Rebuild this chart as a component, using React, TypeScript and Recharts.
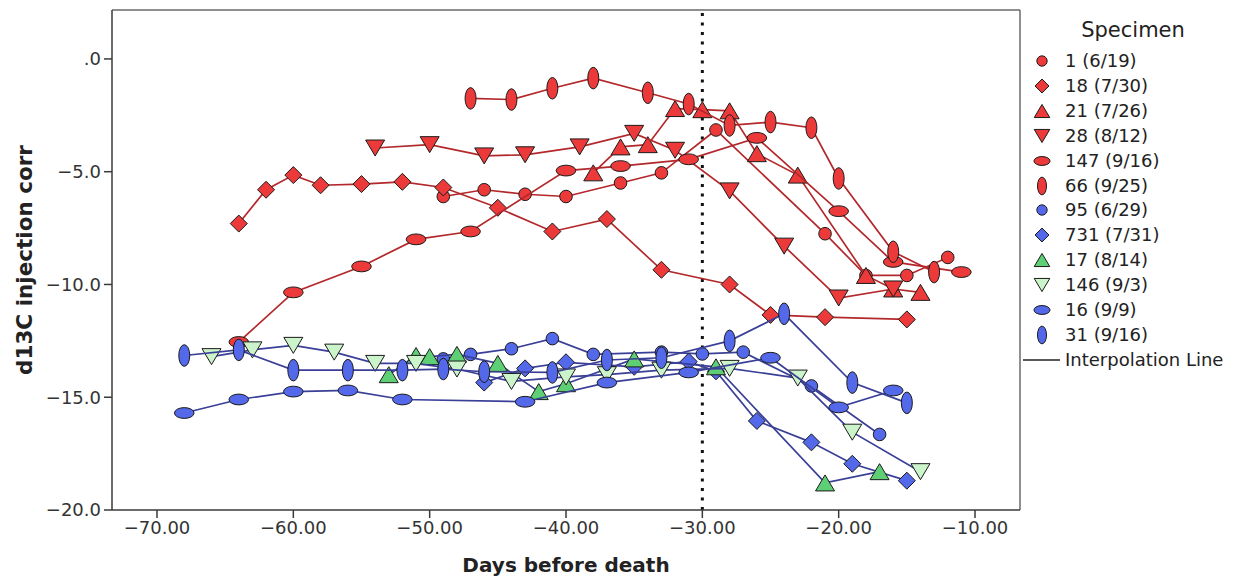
import React from 'react';
import { ScatterChart, Scatter, XAxis, YAxis, ReferenceLine } from 'recharts';

type Pt = [number, number];
type Kind = 'circle' | 'diamond' | 'up' | 'down' | 'hell' | 'vell';

// Days before death, d13C injection corr
const spec1: Pt[] = [[-49, -6.1], [-46, -5.8], [-43, -6.0], [-40, -6.1], [-36, -5.5], [-33, -5.05], [-29, -3.15], [-21, -7.75], [-18, -9.6], [-15, -9.6], [-12, -8.8]];
const spec18: Pt[] = [[-64, -7.3], [-62, -5.8], [-60, -5.15], [-58, -5.6], [-55, -5.55], [-52, -5.45], [-49, -5.7], [-45, -6.6], [-41, -7.65], [-37, -7.1], [-33, -9.35], [-28, -10.0], [-25, -11.35], [-21, -11.45], [-15, -11.55]];
const spec21: Pt[] = [[-38, -5.05], [-36, -3.9], [-34, -3.8], [-32, -2.2], [-30, -2.25], [-28, -2.3], [-26, -4.2], [-23, -5.15], [-18, -9.6], [-16, -10.2], [-14, -10.35]];
const spec28: Pt[] = [[-54, -3.95], [-50, -3.8], [-46, -4.3], [-43, -4.25], [-39, -3.9], [-35, -3.3], [-32, -4.05], [-28, -5.85], [-24, -8.3], [-20, -10.6], [-16, -10.2]];
const spec147: Pt[] = [[-64, -12.55], [-60, -10.35], [-55, -9.2], [-51, -8.0], [-47, -7.65], [-40, -4.95], [-36, -4.75], [-31, -4.45], [-26, -3.5], [-20, -6.75], [-16, -9.0], [-11, -9.45]];
const spec66: Pt[] = [[-47, -1.75], [-44, -1.8], [-41, -1.3], [-38, -0.85], [-34, -1.5], [-31, -2.0], [-28, -2.95], [-25, -2.8], [-22, -3.05], [-20, -5.3], [-16, -8.55], [-13, -9.45]];
const spec95: Pt[] = [[-49, -13.3], [-47, -13.1], [-44, -12.85], [-41, -12.4], [-38, -13.1], [-33, -13.0], [-30, -13.08], [-27, -13.0], [-22, -14.5], [-17, -16.65]];
const spec731: Pt[] = [[-46, -14.35], [-43, -13.72], [-40, -13.45], [-35, -13.65], [-31, -13.42], [-29, -13.85], [-26, -16.05], [-22, -17.0], [-19, -17.95], [-15, -18.7]];
const spec17: Pt[] = [[-53, -14.0], [-51, -13.15], [-50, -13.2], [-48, -13.1], [-45, -13.5], [-42, -14.75], [-40, -14.4], [-35, -13.3], [-29, -13.65], [-21, -18.8], [-17, -18.3]];
const spec146: Pt[] = [[-66, -13.2], [-63, -12.9], [-60, -12.7], [-57, -13.0], [-54, -13.5], [-51, -13.5], [-48, -13.75], [-44, -14.3], [-40, -14.1], [-37, -14.0], [-33, -13.8], [-28, -13.72], [-23, -14.15], [-19, -16.55], [-14, -18.3]];
const spec16: Pt[] = [[-68, -15.7], [-64, -15.1], [-60, -14.75], [-56, -14.7], [-52, -15.1], [-43, -15.2], [-37, -14.35], [-31, -13.9], [-25, -13.25], [-20, -15.45], [-16, -14.7]];
const spec31: Pt[] = [[-68, -13.15], [-64, -12.9], [-60, -13.8], [-56, -13.8], [-52, -13.8], [-49, -13.75], [-46, -13.87], [-41, -13.9], [-37, -13.35], [-33, -13.25], [-28, -12.5], [-24, -11.3], [-19, -14.35], [-15, -15.25]];

const X_TICKS = [-70, -60, -50, -40, -30, -20, -10];
const Y_TICKS = [0, -5, -10, -15, -20];
const X_DOMAIN: [number, number] = [-73.3, -6.7];
const Y_DOMAIN: [number, number] = [-20, 2.17];
const CUTOFF_DAY = -30;

const RED_FILL = '#EC3A3A';
const RED_LINE = '#B3282B';
const BLUE_FILL = '#5468EA';
const BLUE_LINE = '#3A3F97';
const GREEN_FILL = '#5FCF75';
const LIGHT_GREEN_FILL = '#CBF4CB';

const SERIES: { name: string; data: Pt[]; kind: Kind; fill: string; line: string }[] = [
  { name: '1 (6/19)', data: spec1, kind: 'circle', fill: RED_FILL, line: RED_LINE },
  { name: '18 (7/30)', data: spec18, kind: 'diamond', fill: RED_FILL, line: RED_LINE },
  { name: '21 (7/26)', data: spec21, kind: 'up', fill: RED_FILL, line: RED_LINE },
  { name: '28 (8/12)', data: spec28, kind: 'down', fill: RED_FILL, line: RED_LINE },
  { name: '147 (9/16)', data: spec147, kind: 'hell', fill: RED_FILL, line: RED_LINE },
  { name: '66 (9/25)', data: spec66, kind: 'vell', fill: RED_FILL, line: RED_LINE },
  { name: '95 (6/29)', data: spec95, kind: 'circle', fill: BLUE_FILL, line: BLUE_LINE },
  { name: '731 (7/31)', data: spec731, kind: 'diamond', fill: BLUE_FILL, line: BLUE_LINE },
  { name: '17 (8/14)', data: spec17, kind: 'up', fill: GREEN_FILL, line: BLUE_LINE },
  { name: '146 (9/3)', data: spec146, kind: 'down', fill: LIGHT_GREEN_FILL, line: BLUE_LINE },
  { name: '16 (9/9)', data: spec16, kind: 'hell', fill: BLUE_FILL, line: BLUE_LINE },
  { name: '31 (9/16)', data: spec31, kind: 'vell', fill: BLUE_FILL, line: BLUE_LINE },
];

const FONT = "'DejaVu Sans', sans-serif";

function Marker({ kind, fill, cx, cy, k = 1 }: { kind: Kind; fill: string; cx: number; cy: number; k?: number }) {
  const stroke = '#1b1b1b';
  const sw = 1;
  if (cx == null || cy == null || isNaN(cx) || isNaN(cy)) return null;
  switch (kind) {
    case 'circle':
      return <circle cx={cx} cy={cy} r={6.3 * k} fill={fill} stroke={stroke} strokeWidth={sw} />;
    case 'diamond': {
      const d = 8.5 * k;
      return <polygon points={`${cx},${cy - d} ${cx + d},${cy} ${cx},${cy + d} ${cx - d},${cy}`} fill={fill} stroke={stroke} strokeWidth={sw} />;
    }
    case 'up': {
      const w = 9.5 * k, h = 8 * k;
      return <polygon points={`${cx - w},${cy + h} ${cx + w},${cy + h} ${cx},${cy - h}`} fill={fill} stroke={stroke} strokeWidth={sw} />;
    }
    case 'down': {
      const w = 9.5 * k, h = 8 * k;
      return <polygon points={`${cx - w},${cy - h} ${cx + w},${cy - h} ${cx},${cy + h}`} fill={fill} stroke={stroke} strokeWidth={sw} />;
    }
    case 'hell':
      return <ellipse cx={cx} cy={cy} rx={9.8 * k} ry={5.4 * k} fill={fill} stroke={stroke} strokeWidth={sw} />;
    case 'vell':
      return <ellipse cx={cx} cy={cy} rx={5.5 * k} ry={10.8 * k} fill={fill} stroke={stroke} strokeWidth={sw} />;
  }
  return null;
}

const MINUS = '\u2212';
const yFmt = (v: number) => (v === 0 ? '.0' : (v < 0 ? MINUS : '') + Math.abs(v).toFixed(1));
const xFmt = (v: number) => (v < 0 ? MINUS : '') + Math.abs(v).toFixed(2);

function YTitle(props: any) {
  const vb = props.viewBox || { x: 0, y: 0, width: 0, height: 0 };
  const x = vb.x + 24;
  const y = vb.y + vb.height / 2;
  return (
    <text x={x} y={y} transform={`rotate(-90, ${x}, ${y})`} textAnchor="middle" dominantBaseline="central"
      fontFamily={FONT} fontWeight="bold" fontSize={21.5} fill="#222">
      d13C injection corr
    </text>
  );
}

function Legend() {
  const rowH = 24.9;
  return (
    <div style={{ position: 'absolute', left: 1020, top: 0, width: 223, height: 400, fontFamily: FONT, color: '#222' }}>
      <div style={{ position: 'absolute', left: 0, width: 226, top: 17, textAlign: 'center', fontSize: 21, lineHeight: '26px' }}>Specimen</div>
      {SERIES.map((s, i) => (
        <div key={s.name} style={{ position: 'absolute', left: 0, top: 61 + i * rowH - 12, height: 24, width: 223 }}>
          <svg width={40} height={24} style={{ position: 'absolute', left: 6, top: 0 }}>
            <Marker kind={s.kind} fill={s.fill} cx={16} cy={12} k={0.82} />
          </svg>
          <span style={{ position: 'absolute', left: 45, top: 1, fontSize: 18, lineHeight: '22px', whiteSpace: 'nowrap' }}>{s.name}</span>
        </div>
      ))}
      <div style={{ position: 'absolute', left: 0, top: 61 + SERIES.length * rowH - 12, height: 24, width: 223 }}>
        <svg width={44} height={24} style={{ position: 'absolute', left: 0, top: 0 }}>
          <line x1={3} x2={40} y1={12} y2={12} stroke="#222" strokeWidth={1.5} />
        </svg>
        <span style={{ position: 'absolute', left: 45, top: 1, fontSize: 18, lineHeight: '22px', whiteSpace: 'nowrap' }}>Interpolation Line</span>
      </div>
    </div>
  );
}

export default function App() {
  return (
    <div style={{ position: 'absolute', left: 0, top: 0, width: 1243, height: 584, background: '#fff', fontFamily: FONT }}>
      <ScatterChart width={1243} height={584} margin={{ top: 10, right: 223, bottom: 0, left: 0 }}>
        <XAxis
          type="number"
          dataKey="x"
          domain={X_DOMAIN}
          ticks={X_TICKS}
          tickFormatter={xFmt}
          allowDataOverflow
          height={74}
          tickSize={8}
          tickMargin={3}
          stroke="#3a3a3a"
          strokeWidth={1.5}
          tick={{ fill: '#333', fontSize: 18, fontFamily: FONT }}
          label={{ value: 'Days before death', position: 'insideBottom', offset: 12, style: { fontFamily: FONT, fontWeight: 'bold', fontSize: 20, fill: '#222' } }}
        />
        <YAxis
          type="number"
          dataKey="y"
          domain={Y_DOMAIN}
          ticks={Y_TICKS}
          tickFormatter={yFmt}
          allowDataOverflow
          width={112}
          tickSize={8}
          tickMargin={3}
          stroke="#3a3a3a"
          strokeWidth={1.5}
          tick={{ fill: '#333', fontSize: 18, fontFamily: FONT }}
          label={<YTitle />}
        />
        <ReferenceLine y={Y_DOMAIN[1]} stroke="#6a6a6a" strokeWidth={1.5} />
        <ReferenceLine x={X_DOMAIN[1]} stroke="#6a6a6a" strokeWidth={1.5} />
        <ReferenceLine x={CUTOFF_DAY} stroke="#111" strokeWidth={3} strokeDasharray="3 6.5" />
        {SERIES.map((s) => (
          <Scatter
            key={s.name}
            name={s.name}
            data={s.data.map(([x, y]) => ({ x, y }))}
            fill={s.fill}
            line={{ stroke: s.line, strokeWidth: 1.7 }}
            lineJointType="linear"
            isAnimationActive={false}
            shape={(p: any) => <Marker kind={s.kind} fill={s.fill} cx={p.cx} cy={p.cy} />}
          />
        ))}
      </ScatterChart>
      <Legend />
    </div>
  );
}
